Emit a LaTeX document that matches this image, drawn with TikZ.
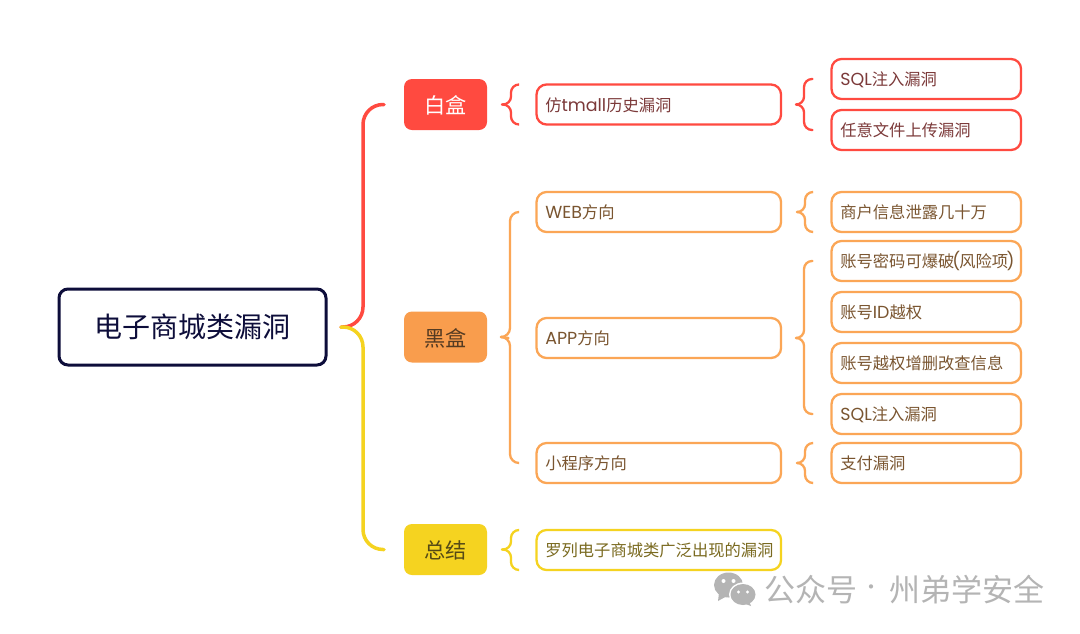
\documentclass[tikz,border=0pt]{standalone}
\usepackage{fontspec}
\setmainfont{Noto Sans CJK SC}
\newfontfamily\lat[Scale=1.07]{Poppins}
\usetikzlibrary{calc}
\definecolor{navy}{HTML}{0D0D3A}
\definecolor{redc}{HTML}{FF4A40}
\definecolor{orgc}{HTML}{FBA656}
\definecolor{orgf}{HTML}{F99D4D}
\definecolor{yelc}{HTML}{F5D320}
\definecolor{redt}{HTML}{7C3A3A}
\definecolor{orgt}{HTML}{7A5530}
\definecolor{yelt}{HTML}{7A6A20}
\definecolor{wm}{HTML}{B4B4B4}
\newcommand\ta[1]{\makebox[227pt][l]{\raisebox{0pt}[14pt][0.6pt]{#1}}}
\newcommand\tb[1]{\makebox[172pt][l]{\raisebox{0pt}[14pt][0.6pt]{#1}}}
\newcommand\tc[1]{\raisebox{0pt}[19pt][0.5pt]{#1}}
\tikzset{
  x=1pt,y=-1pt,
  rootbox/.style={draw=navy,line width=3pt,rounded corners=9pt,fill=white,minimum width=267pt,minimum height=76pt,inner sep=0pt,outer sep=0pt,text=navy,font=\fontsize{28}{28}\selectfont},
  catbox/.style={rounded corners=8pt,minimum width=83pt,minimum height=51pt,inner sep=0pt,outer sep=0pt,font=\fontsize{21.2}{21.2}\selectfont},
  leaf/.style={draw=#1,line width=2.3pt,rounded corners=10pt,fill=white,minimum height=40pt,inner xsep=8.3pt,inner ysep=0pt,outer sep=0pt,font=\fontsize{16.3}{16.3}\selectfont},
  levelone/.style={leaf=#1,minimum width=244.5pt},
  leveltwo/.style={leaf=#1,minimum width=189.5pt},
  wmtext/.style={text=wm,inner sep=0pt,font=\fontsize{31}{31}\selectfont},
}
% bracket leg: colour, width, radius, start, x of the vertical, end
\newcommand\leg[6]{\draw[#1,line width=#2pt,rounded corners=#3pt,line cap=round]
  let \p1=(#4),\p2=(#6) in (\p1) -- (\x1+#5pt,\y1) -- (\x1+#5pt,\y2) -- (\p2);}
\begin{document}
\begin{tikzpicture}
\useasboundingbox[fill=white] (0,0) rectangle (1080,633);
% root and categories
\node[rootbox] (root) at (192.5,327) {电子商城类漏洞};
\node[catbox,fill=redc,text=white] (bai) at (445.5,104.5) {\tc{白盒}};
\node[catbox,fill=orgf,text=orgt!70!black] (hei) at (445.5,337) {\tc{黑盒}};
\node[catbox,fill=yelc,text=yelt!70!black] (zong) at (445.5,549.5) {\tc{总结}};
% level one
\node[levelone=redc,text=redt] (fang) at (658.8,104.5) {\ta{仿{\lat tmall}历史漏洞}};
\node[levelone=orgc,text=orgt] (web) at (658.8,212) {\ta{{\lat WEB}方向}};
\node[levelone=orgc,text=orgt] (app) at (658.8,338) {\ta{{\lat APP}方向}};
\node[levelone=orgc,text=orgt] (mini) at (658.8,463) {\ta{小程序方向}};
\node[levelone=yelc,text=yelt] (luo) at (658.8,550) {\ta{罗列电子商城类广泛出现的漏洞}};
% level two
\node[leveltwo=redc,text=redt] (sqla) at (926.3,79) {\tb{{\lat SQL}注入漏洞}};
\node[leveltwo=redc,text=redt] (ren) at (926.3,130) {\tb{任意文件上传漏洞}};
\node[leveltwo=orgc,text=orgt] (shang) at (926.3,212) {\tb{商户信息泄露几十万}};
\node[leveltwo=orgc,text=orgt] (mima) at (926.3,261) {\tb{账号密码可爆破{\lat\kern-2pt(\kern-1pt}风险项{\lat\kern-1.5pt)}}};
\node[leveltwo=orgc,text=orgt] (idy) at (926.3,312) {\tb{账号{\lat ID}越权}};
\node[leveltwo=orgc,text=orgt] (zeng) at (926.3,363) {\tb{账号越权增删改查信息}};
\node[leveltwo=orgc,text=orgt] (sqlb) at (926.3,414) {\tb{{\lat SQL}注入漏洞}};
\node[leveltwo=orgc,text=orgt] (zhi) at (926.3,463) {\tb{支付漏洞}};
% connectors
\leg{redc}{3.5}{20}{$(root.east)+(15,0)$}{22}{$(bai.west)+(-20,0)$}
\leg{yelc}{3.5}{20}{$(root.east)+(15,0)$}{22}{$(zong.west)+(-20,0)$}
\leg{redc}{2.3}{8}{$(bai.east)+(15,0)$}{9}{$(fang.north west)+(-18,0)$}
\leg{redc}{2.3}{8}{$(bai.east)+(15,0)$}{9}{$(fang.south west)+(-18,0)$}
\leg{orgc}{2.3}{9}{$(hei.east)+(14,0)$}{9}{$(web.west)+(-18,0)$}
\leg{orgc}{2.3}{9}{$(hei.east)+(14,0)$}{9}{$(mini.west)+(-18,0)$}
\draw[orgc,line width=2.3pt,line cap=round] ($(hei.east)+(14,0)$) -- ($(app.west)+(-28,0)$);
\leg{yelc}{2.3}{8}{$(zong.east)+(15,0)$}{9}{$(luo.north west)+(-18,0)$}
\leg{yelc}{2.3}{8}{$(zong.east)+(15,0)$}{9}{$(luo.south west)+(-18,0)$}
\leg{redc}{2.3}{8}{$(fang.east)+(15,0)$}{8}{$(sqla.west)+(-19,0)$}
\leg{redc}{2.3}{8}{$(fang.east)+(15,0)$}{8}{$(ren.west)+(-19,0)$}
\leg{orgc}{2.3}{8}{$(web.east)+(16,0)$}{8}{$(shang.north west)+(-19,0)$}
\leg{orgc}{2.3}{8}{$(web.east)+(16,0)$}{8}{$(shang.south west)+(-19,0)$}
\leg{orgc}{2.3}{8}{$(app.east)+(15,0)$}{8}{$(mima.west)+(-19,0)$}
\leg{orgc}{2.3}{8}{$(app.east)+(15,0)$}{8}{$(sqlb.west)+(-19,0)$}
\leg{orgc}{2.3}{8}{$(mini.east)+(16,0)$}{8}{$(zhi.north west)+(-19,0)$}
\leg{orgc}{2.3}{8}{$(mini.east)+(16,0)$}{8}{$(zhi.south west)+(-19,0)$}
% watermark
\fill[wm] (728.5,585) ellipse [x radius=14.5,y radius=12.5];
\fill[wm] (719,593) -- (718,601) -- (727,596) -- cycle;
\fill[white] (743,594.5) ellipse [x radius=14,y radius=12];
\fill[wm] (743,594.5) ellipse [x radius=12.5,y radius=10.5];
\fill[wm] (749,601) -- (751,606) -- (743,603) -- cycle;
\fill[white] (723.5,581) circle (2) (733.5,581) circle (2) (738.5,592) circle (1.7) (747.5,592) circle (1.7);
\node[wmtext,anchor=west] (wma) at (764,590) {公众号};
\node[wmtext,anchor=center,font=\fontsize{20}{20}\selectfont] (wmb) at (871,590) {·};
\node[wmtext,anchor=west] (wmc) at (889.5,590) {州弟学安全};
\end{tikzpicture}
\end{document}
